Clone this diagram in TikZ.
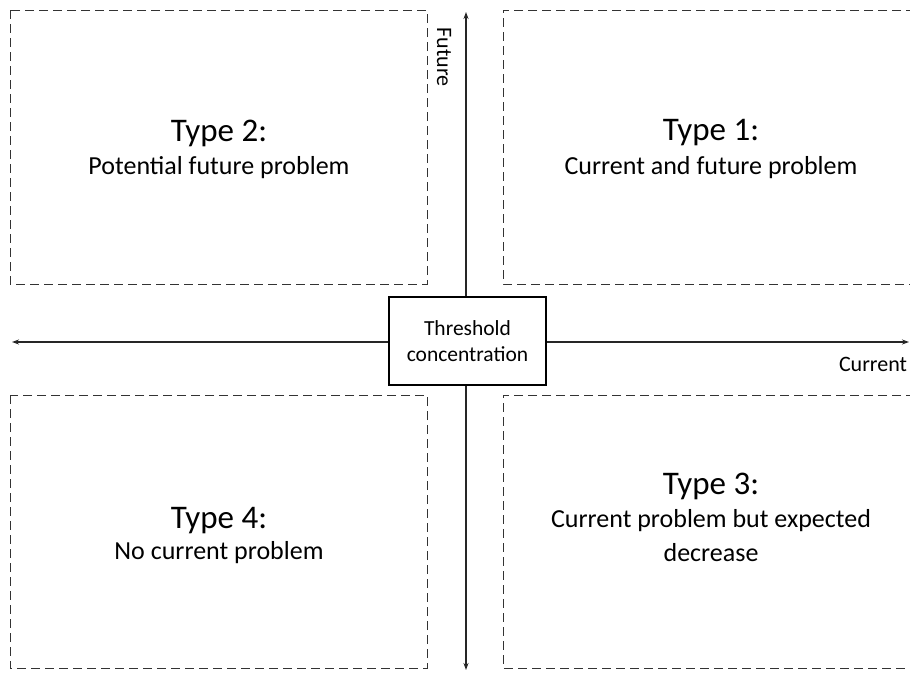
\documentclass[tikz,border=0pt]{standalone}
\usepackage{fontspec}
\setmainfont{Carlito}
\usetikzlibrary{arrows.meta}
\begin{document}
\begin{tikzpicture}[x=1pt,y=1pt,
  quad/.style={draw=black!80, line width=1pt, dash pattern=on 9pt off 5pt},
  axis/.style={draw=black!85, line width=1.2pt, {Stealth[length=7pt,width=5pt]}-{Stealth[length=7pt,width=5pt]}},
  title/.style={font=\fontsize{33}{40}\selectfont, inner sep=0pt},
  sub/.style={font=\fontsize{26}{32}\selectfont, inner sep=0pt, align=center},
  small/.style={font=\fontsize{22}{26}\selectfont, inner sep=0pt}]
\useasboundingbox (0,0) rectangle (910,-673);
% quadrant boxes
\draw[quad] (10,-10) rectangle (427,-284);
\draw[quad] (10,-395) rectangle (427,-668);
\draw[quad] (915,-10) -- (503,-10) -- (503,-284) -- (915,-284);
\draw[quad] (915,-395) -- (503,-395) -- (503,-668) -- (915,-668);
% axes
\coordinate (L) at (12,-342);
\coordinate (R) at (909,-342);
\coordinate (T) at (466,-12);
\coordinate (B) at (466,-670);
\draw[axis] (L) -- (R);
\draw[axis] (T) -- (B);
% center
\node[draw=black, line width=1.2pt, fill=white, minimum width=157pt, minimum height=88pt,
  align=center, font=\fontsize{21.5}{26}\selectfont] (thr) at (467.5,-341) {Threshold\\concentration};
% axis labels
\node[small, rotate=-90] (fut) at (444,-57) {Future};
\node[small] (cur) at (873,-364) {Current};
% quadrant texts
\node[title] (t2) at (219,-133) {Type 2:};
\node[sub] (s2) at (219,-168) {Potential future problem};
\node[title] (t1) at (711,-133) {Type 1:};
\node[sub] (s1) at (711,-168) {Current and future problem};
\node[title] (t4) at (219,-521) {Type 4:};
\node[sub] (s4) at (219,-553) {No current problem};
\node[title] (t3) at (711,-486) {Type 3:};
\node[sub] (s3a) at (711,-521) {Current problem but expected};
\node[sub] (s3b) at (711,-553) {decrease};
\end{tikzpicture}
\end{document}
